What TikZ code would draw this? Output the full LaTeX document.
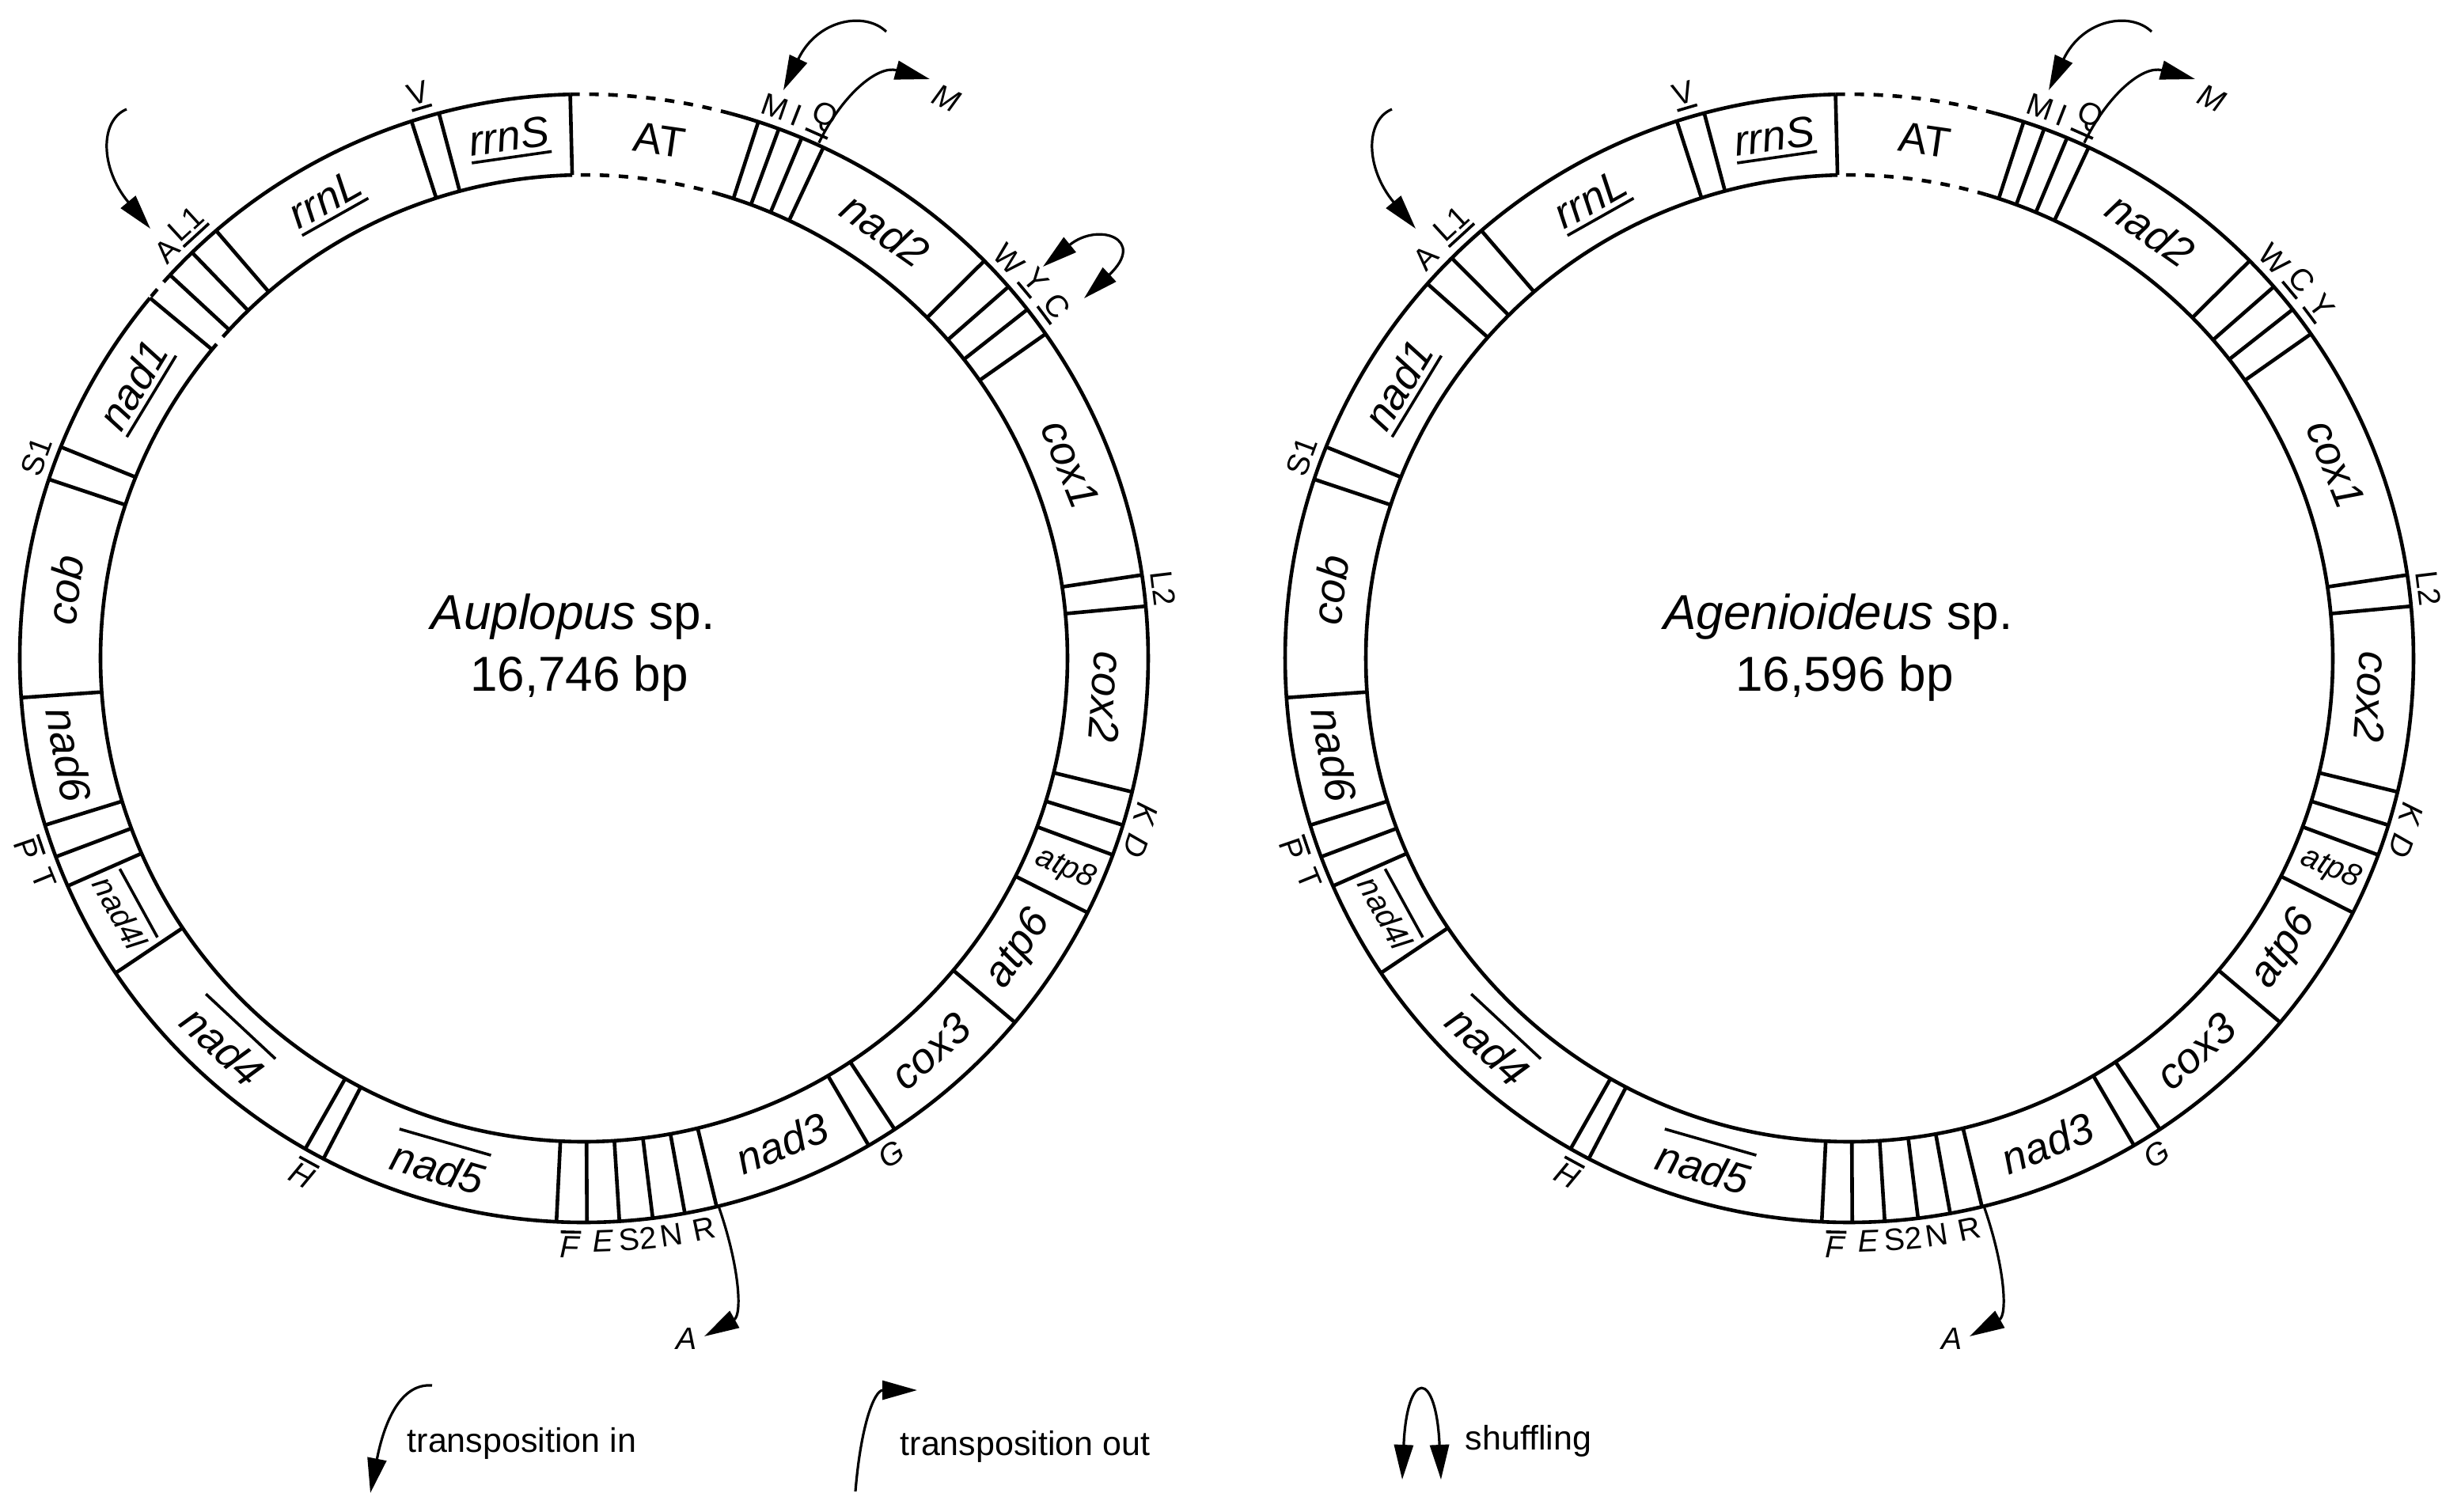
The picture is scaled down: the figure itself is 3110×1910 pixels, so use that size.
\documentclass[tikz,border=0pt]{standalone}
\usepackage{fontspec}
\setmainfont{Liberation Sans}
\usetikzlibrary{arrows.meta}

\newcommand\myul[2]{\leavevmode\vtop{\hbox{#2}\kern#1\hrule height 0.9pt}}
\newcommand\myol[2]{\leavevmode\vbox{\hrule height 0.9pt\kern#1\hbox{#2}}}
% gene labels inside the ring (upper / lower reading convention)
\newcommand\mgU[4]{\node[gene,rotate={#3-90}] (#1-#2) at (#3:662) {#4};}
\newcommand\mgL[4]{\node[gene,rotate={#3+90}] (#1-#2) at (#3:662) {#4};}
% tRNA labels outside the ring
\newcommand\mtU[4]{\node[trna,rotate={#3-90},anchor=south] (#1-#2) at (#3:718) {#4};}
\newcommand\mtL[4]{\node[trna,rotate={#3+90},anchor=north] (#1-#2) at (#3:718) {#4};}

\newcommand\mitoring[1]{%
  \foreach \a in {91.4,72,69.8,67.3,64.9,44.8,41.2,38.2,35.1,8.5,5.3,-13.7,-17.2,-20.4,-26.8,-40.2,-56.6,-59.7,-76.4,-79.7,-83,-86.4,-89.7,-92.8,-117.5,-119.6,-146.1,-156.2,-159.4,-162.8,-176,161.5,158,130.7,107.8,104.9}
    {\draw[ringline] (\a:611) -- (\a:713);}
  \draw[ringline,dashed] (75:713) arc[start angle=75,end angle=91.4,radius=713];
  \draw[ringline,dashed] (73.5:611) arc[start angle=73.5,end angle=91.4,radius=611];
  % genes
  \mgU{#1}{rrnS}{98.2}{\myul{1.5pt}{\textit{rrnS}}}
  \mgU{#1}{AT}{81.7}{AT}
  \mgU{#1}{nad2}{54.9}{\textit{nad2}}
  \mgU{#1}{cox1}{21.8}{\textit{cox1}}
  \mgU{#1}{cox2}{-4.2}{\textit{cox2}}
  \node[gene,rotate=-23.6] (#1-atp8) at (-23.6:664) {\fontsize{10}{12}\selectfont\textit{atp8}};
  \mgL{#1}{atp6}{-33.8}{\textit{atp6}}
  \mgL{#1}{cox3}{-48.6}{\textit{cox3}}
  \mgL{#1}{nad3}{-67.8}{\textit{nad3}}
  \mgL{#1}{nad5}{-106}{\myol{3pt}{\textit{nad5}}}
  \mgL{#1}{nad4}{-133}{\myol{3pt}{\textit{nad4}}}
  \mgL{#1}{nad4l}{-151.2}{\fontsize{10}{12}\selectfont\myol{2.5pt}{\textit{nad4l}}}
  \mgL{#1}{nad6}{-169.4}{\textit{nad6}}
  \mgU{#1}{cob}{172.5}{\textit{cob}}
  \mgU{#1}{nad1}{148.8}{\myul{1.5pt}{\textit{nad1}}}
  \mgU{#1}{rrnL}{119.4}{\myul{1.5pt}{\textit{rrnL}}}
  % tRNAs
  \mtU{#1}{V}{106.4}{\myul{1pt}{V}}
  \mtU{#1}{L1}{132.5}{\myul{1pt}{L1}}
  \mtU{#1}{M}{70.9}{M}
  \mtU{#1}{I}{68.6}{I}
  \mtU{#1}{Q}{66.1}{\myul{1pt}{Q}}
  \mtU{#1}{W}{43.2}{W}
  \mtU{#1}{L2}{6.9}{L2}
  \mtU{#1}{K}{-15.5}{\textit{K}}
  \mtU{#1}{D}{-18.8}{\textit{D}}
  \mtU{#1}{S1}{159.8}{S1}
  \mtL{#1}{G}{-58.2}{\textit{G}}
  \mtL{#1}{R}{-78.1}{R}
  \mtL{#1}{N}{-81.4}{N}
  \mtL{#1}{S2}{-84.7}{S2}
  \mtL{#1}{E}{-88.1}{\textit{E}}
  \mtL{#1}{F}{-91.3}{\myol{1pt}{\textit{F}}}
  \mtL{#1}{H}{-118.6}{\myol{1pt}{\textit{H}}}
  \mtL{#1}{T}{-157.8}{T}
  \mtL{#1}{P}{-161.1}{\myol{1pt}{P}}
  % transposition arrows
  \coordinate (#1-ains) at (-578,694);
  \coordinate (#1-aint) at (-548,543);
  \draw[tarrow] (#1-ains) .. controls (-612,680) and (-612,620) .. (#1-aint);
  \coordinate (#1-mins) at (382,792);
  \coordinate (#1-mint) at (252,718);
  \draw[tarrow] (#1-mins) .. controls (355,818) and (295,808) .. (#1-mint);
  \coordinate (#1-mouts) at (65.5:716);
  \coordinate (#1-moutt) at (437,732);
  \draw[tarrow] (#1-mouts) .. controls (325,710) and (370,750) .. (#1-moutt);
  \node[alab,rotate=-25] (#1-Mlab) at (458,708) {\textit{M}};
  \coordinate (#1-routs) at (-76.2:713);
  \coordinate (#1-routt) at (152,-857);
  \draw[tarrow] (#1-routs) .. controls (197,-770) and (200,-830) .. (#1-routt);
  \node[alab] (#1-Alab) at (130,-860) {\textit{A}};
}

\begin{document}
\begin{tikzpicture}[x=0.25pt,y=0.25pt,
  ringline/.style={line width=1.15pt},
  gene/.style={font=\fontsize{13.5}{16}\selectfont, inner sep=0pt},
  trna/.style={font=\fontsize{9.8}{11}\selectfont, inner sep=1.2pt},
  alab/.style={font=\fontsize{9.8}{11}\selectfont, inner sep=0pt},
  center/.style={font=\fontsize{15.5}{18}\selectfont, inner sep=0pt},
  legend/.style={font=\fontsize{10.75}{13}\selectfont, inner sep=0pt},
  tarrow/.style={line width=0.8pt, -{Triangle[length=11pt,width=6pt]}},
  sarrow/.style={line width=0.8pt, {Triangle[length=11pt,width=6pt]}-{Triangle[length=11pt,width=6pt]}}]
\useasboundingbox (0,0) rectangle (3110,-1910);

% ---------------- left map: Auplopus ----------------
\begin{scope}[shift={(738,-832)}]
  \draw[ringline] (91.4:713) arc[start angle=91.4,end angle=137.2,radius=713];
  \draw[ringline,dashed] (137.2:713) arc[start angle=137.2,end angle=140.3,radius=713];
  \draw[ringline] (140.3:713) arc[start angle=140.3,end angle=435,radius=713];
  \draw[ringline] (91.4:611) arc[start angle=91.4,end angle=137.2,radius=611];
  \draw[ringline,dashed] (137.2:611) arc[start angle=137.2,end angle=140.3,radius=611];
  \draw[ringline] (140.3:611) arc[start angle=140.3,end angle=433.5,radius=611];
  \foreach \a in {140.3,137.2,134.0}{\draw[ringline] (\a:611) -- (\a:713);}
  \mitoring{L}
  \mtU{L}{A}{135.6}{A}
  \mtU{L}{Y}{39.9}{\myul{1pt}{Y}}
  \mtU{L}{C}{36.7}{\myul{1pt}{C}}
  \coordinate (L-sha) at (580,495);
  \coordinate (L-shb) at (632,455);
  \draw[sarrow] (L-sha) .. controls (650,552) and (712,530) .. (L-shb);
  \node[center] (L-name) at (-14,53) {\textit{Auplopus} sp.};
  \node[center] (L-len) at (-6,-25) {16,746 bp};
\end{scope}

% ---------------- right map: Agenioideus ----------------
\begin{scope}[shift={(2337,-832)}]
  \draw[ringline] (91.4:713) arc[start angle=91.4,end angle=435,radius=713];
  \draw[ringline] (91.4:611) arc[start angle=91.4,end angle=433.5,radius=611];
  \foreach \a in {138.4,134.8}{\draw[ringline] (\a:611) -- (\a:713);}
  \mitoring{R}
  \mtU{R}{A}{136.6}{A}
  \mtU{R}{C}{39.9}{\myul{1pt}{C}}
  \mtU{R}{Y}{36.7}{\myul{1pt}{Y}}
  \node[center] (R-name) at (-14,53) {\textit{Agenioideus} sp.};
  \node[center] (R-len) at (-6,-25) {16,596 bp};
\end{scope}

% ---------------- legend ----------------
\coordinate (lg-ins) at (546,-1751);
\coordinate (lg-int) at (468,-1887);
\draw[tarrow] (lg-ins) .. controls (505,-1748) and (485,-1800) .. (lg-int);
\node[legend,anchor=base west] (lg-intext) at (514,-1835) {transposition in};
\coordinate (lg-outs) at (1081,-1885);
\coordinate (lg-outt) at (1159,-1757);
\draw[tarrow] (lg-outs) .. controls (1088,-1800) and (1105,-1757) .. (lg-outt);
\node[legend,anchor=base west] (lg-outtext) at (1137,-1839) {transposition out};
\coordinate (lg-sha) at (1772,-1870);
\coordinate (lg-shb) at (1821,-1870);
\draw[sarrow] (lg-sha) .. controls (1778,-1730) and (1815,-1730) .. (lg-shb);
\node[legend,anchor=base west] (lg-shtext) at (1851,-1832) {shuffling};
\end{tikzpicture}
\end{document}
